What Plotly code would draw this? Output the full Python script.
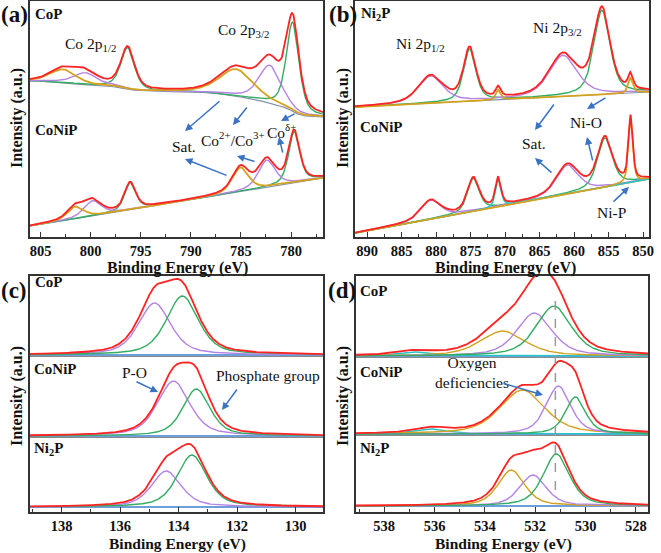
import numpy as np
import plotly.graph_objects as go

# ---------------- data ----------------
# peak components: (center eV, height above background, FWHM eV)
# (a) Co 2p
a_cop_green  = [(779.84, 89, 1.5), (796.30, 41, 1.6)]
a_cop_purple = [(782.11, 38, 2.6), (800.50, 12, 2.8)]
a_cop_gold   = [(785.45, 27, 4.0), (802.72, 13, 3.0)]
a_cop_bg     = (156, 120)          # Shirley background: high-BE end, low-BE end
a_conip_green  = [(779.69, 51, 1.3), (796.05, 27, 1.3)]
a_conip_purple = [(782.42, 27, 2.0), (799.79, 15, 2.0)]
a_conip_gold   = [(785.04, 24, 1.9), (801.50, 12, 1.9)]
a_conip_bg     = (11, 59)          # linear background: high-BE end, low-BE end
# (b) Ni 2p
b_ni2p_green  = [(855.95, 84, 2.75), (875.12, 52, 2.1)]
b_ni2p_purple = [(861.59, 41, 4.8), (880.77, 27, 4.25)]
b_ni2p_gold   = [(851.79, 15, 0.85), (870.97, 10, 0.85)]
b_ni2p_bg     = (130, 145)
b_conip_green  = [(855.52, 49, 2.55), (874.59, 33, 2.0)]
b_conip_purple = [(860.96, 29, 3.8), (880.77, 19, 3.4)]
b_conip_gold   = [(851.79, 64, 0.75)]
b_conip_cyan   = [(870.97, 28, 0.95)]
b_conip_bg     = (4, 58)
# (c) P 2p  (baseline offset, components)
c_cop   = dict(base=156, purple=(134.82, 52, 1.3), green=(133.87, 59, 1.3))
c_conip = dict(base=75,  purple=(134.17, 55, 1.3), green=(133.39, 47, 1.1))
c_ni2p  = dict(base=4,   purple=(134.42, 36, 1.2), green=(133.54, 52, 1.2))
# (d) O 1s
d_cop   = dict(base=155, cyan=(536.74, 4, 1.55), gold=(533.29, 25, 2.1),
               purple=(532.03, 43, 1.65), green=(531.26, 50, 1.65))
d_conip = dict(base=77,  cyan=(536.11, 5, 1.55), gold=(532.51, 44, 2.1),
               purple=(531.08, 48, 1.15), green=(530.40, 37, 0.95))
d_ni2p  = dict(base=5,   cyan=None, gold=(532.95, 36, 1.25),
               purple=(532.09, 31, 1.25), green=(531.16, 52, 1.25))
d_ref_line = 531.2

a_ticks = [805, 800, 795, 790, 785, 780]
b_ticks = [890, 885, 880, 875, 870, 865, 860, 855, 850]
c_ticks = [138, 136, 134, 132, 130]
d_ticks = [538, 536, 534, 532, 530, 528]

# axis ranges (high BE on the left)
a_range = [806.05, 776.81]
b_range = [891.74, 849.13]
c_range = [139.08, 129.06]
d_range = [539.12, 527.52]

# ---------------- styles ----------------
RED, GREEN, PURPLE, GOLD = "#ff2424", "#33ad62", "#b483e3", "#d5a21e"
CYAN, BLUE, ARROW = "#25c4c8", "#3c7fd2", "#3a72c4"
FONT = "Liberation Serif"
W, H = 661, 553


def pv(x, c, h, w, eta=0.55):
    d = (x - c) / w
    return h * (eta / (1 + 4 * d * d) + (1 - eta) * np.exp(-4 * np.log(2) * d * d))


def comp(x, peaks):
    y = np.zeros_like(x)
    for c, h, w in peaks:
        y += pv(x, c, h, w)
    return y


def linear_bg(x, rng, ends):
    return ends[0] + (ends[1] - ends[0]) * (rng[0] - x) / (rng[0] - rng[1])


fig = go.Figure()


def line(x, y, color, ax, width=1.4):
    fig.add_trace(go.Scatter(x=x, y=y, mode="lines", xaxis="x" + ax, yaxis="y" + ax,
                             line=dict(color=color, width=width), hoverinfo="skip",
                             showlegend=False))


# ---- panel a ----
xa = np.linspace(a_range[1], a_range[0], 700)
ga, pa, oa = comp(xa, a_cop_green), comp(xa, a_cop_purple), comp(xa, a_cop_gold)
tot = ga + pa + oa
cum = np.cumsum(tot)
bg = a_cop_bg[1] + (a_cop_bg[0] - a_cop_bg[1]) * cum / cum[-1]
line(xa, bg, "#7f8fa8", "1", 1.2)
line(xa, bg + ga, GREEN, "1")
line(xa, bg + pa, PURPLE, "1")
line(xa, bg + oa, GOLD, "1", 1.8)
line(xa, bg + tot, RED, "1", 1.8)
bgl = linear_bg(xa, a_range, a_conip_bg)
ga, pa, oa = comp(xa, a_conip_green), comp(xa, a_conip_purple), comp(xa, a_conip_gold)
line(xa, bgl, "#7f8fa8", "1", 1.2)
line(xa, bgl + ga, GREEN, "1")
line(xa, bgl + pa, PURPLE, "1")
line(xa, bgl + oa, GOLD, "1", 1.8)
line(xa, bgl + ga + pa + oa, RED, "1", 1.8)

# ---- panel b ----
xb = np.linspace(b_range[1], b_range[0], 900)
bgl = linear_bg(xb, b_range, b_ni2p_bg)
ga, pa, oa = comp(xb, b_ni2p_green), comp(xb, b_ni2p_purple), comp(xb, b_ni2p_gold)
line(xb, bgl, "#7f8fa8", "2", 1.2)
line(xb, bgl + ga, GREEN, "2")
line(xb, bgl + pa, PURPLE, "2")
line(xb, bgl + oa, GOLD, "2", 1.8)
line(xb, bgl + ga + pa + oa, RED, "2", 1.8)
bgl = linear_bg(xb, b_range, b_conip_bg)
ga, pa = comp(xb, b_conip_green), comp(xb, b_conip_purple)
oa, ca = comp(xb, b_conip_gold), comp(xb, b_conip_cyan)
line(xb, bgl, GOLD, "2", 1.6)
line(xb, bgl + ga, GREEN, "2")
line(xb, bgl + pa, PURPLE, "2")
line(xb, bgl + ca, CYAN, "2", 1.6)
line(xb, bgl + oa, GOLD, "2", 1.6)
line(xb, bgl + ga + pa + oa + ca, RED, "2", 1.8)

# ---- panel c ----
xc = np.linspace(c_range[1], c_range[0], 600)
for s in (c_cop, c_conip, c_ni2p):
    b0 = np.full_like(xc, s["base"], dtype=float)
    pp, gg = comp(xc, [s["purple"]]), comp(xc, [s["green"]])
    line(xc, b0, BLUE, "3", 1.6)
    line(xc, b0 + pp, PURPLE, "3")
    line(xc, b0 + gg, GREEN, "3")
    line(xc, b0 + pp + gg, RED, "3", 1.8)

# ---- panel d ----
xd = np.linspace(d_range[1], d_range[0], 600)
for s in (d_cop, d_conip, d_ni2p):
    b0 = np.full_like(xd, s["base"], dtype=float)
    total = np.zeros_like(xd)
    line(xd, b0, BLUE, "4", 1.6)
    for key, col in (("cyan", CYAN), ("gold", GOLD), ("purple", PURPLE), ("green", GREEN)):
        if s[key] is None:
            continue
        yy = comp(xd, [s[key]])
        total += yy
        line(xd, b0 + yy, col, "4")
    line(xd, b0 + total, RED, "4", 1.8)


# ---------------- layout ----------------
def px(x):
    return x / W


def py(y):
    return 1 - y / H


axis_common = dict(showline=True, mirror=True, linecolor="#333", linewidth=1.5,
                   showgrid=False, zeroline=False, automargin=False)


def xax(dom, rng, ticks, anchor, minor):
    return dict(axis_common, domain=dom, range=rng, anchor=anchor, tickmode="array",
                tickvals=ticks, ticks="inside", ticklen=5, tickwidth=1.3, tickcolor="#333",
                tickfont=dict(family=FONT, size=14.5, color="#111", weight="bold"),
                minor=dict(ticks="inside", ticklen=3, dtick=minor, tick0=ticks[0],
                           tickcolor="#333"))


def yax(dom, rng, anchor):
    return dict(axis_common, domain=dom, range=rng, anchor=anchor, showticklabels=False,
                ticks="")


top = [py(237), py(1)]
bot = [py(512), py(276)]
fig.update_layout(
    width=W, height=H, autosize=False, margin=dict(l=0, r=0, t=0, b=0),
    paper_bgcolor="white", plot_bgcolor="white", template="none",
    font=dict(family=FONT),
    xaxis=xax([px(30), px(323)], a_range, a_ticks, "y", 2.5),
    yaxis=yax(top, [0, 236], "x"),
    xaxis2=xax([px(355), px(649)], b_range, b_ticks, "y2", 2.5),
    yaxis2=yax(top, [0, 236], "x2"),
    xaxis3=xax([px(30), px(323)], c_range, c_ticks, "y3", 1),
    yaxis3=yax(bot, [-1, 235], "x3"),
    xaxis4=xax([px(356), px(648)], d_range, d_ticks, "y4", 1),
    yaxis4=yax(bot, [-1, 235], "x4"),
)

shapes = []
for ax, lst in (("3", (c_cop, c_conip)), ("4", (d_cop, d_conip))):
    for s in lst:
        shapes.append(dict(type="line", xref="x" + ax + " domain", yref="y" + ax,
                           x0=0, x1=1, y0=s["base"] - 1.5, y1=s["base"] - 1.5,
                           line=dict(color="#8a8a8a", width=1)))
shapes.append(dict(type="line", xref="x4", yref="y4", x0=d_ref_line, x1=d_ref_line,
                   y0=21, y1=214, line=dict(color="#9a9a9a", width=1.5, dash="dash")))
fig.update_layout(shapes=shapes)

ann = []


def text(x, y, s, size=15, bold=False, xanchor="center", yanchor="middle", angle=0):
    ann.append(dict(x=px(x), y=py(y), xref="paper", yref="paper", text=s, showarrow=False,
                    xanchor=xanchor, yanchor=yanchor, textangle=angle,
                    font=dict(family=FONT, size=size, color="#111",
                              weight="bold" if bold else "normal")))


def arrow(tx, ty, hx, hy):
    ann.append(dict(x=px(hx), y=py(hy), xref="paper", yref="paper", text="",
                    showarrow=True, ax=tx - hx, ay=ty - hy, axref="pixel", ayref="pixel",
                    arrowhead=2, arrowsize=1, arrowwidth=1.5, arrowcolor=ARROW))


for lab, x, y in (("(a)", 14, 15), ("(b)", 343, 15), ("(c)", 14, 290), ("(d)", 342, 290)):
    text(x, y, lab, size=23, bold=True)
for s, x, y in (("CoP", 33, 14), ("CoNiP", 33, 130), ("Ni<sub>2</sub>P", 359, 14),
                ("CoNiP", 358, 127), ("CoP", 33, 282), ("CoNiP", 32, 369),
                ("Ni<sub>2</sub>P", 32, 449), ("CoP", 358, 291), ("CoNiP", 358, 372),
                ("Ni<sub>2</sub>P", 358, 449)):
    text(x, y, s, size=15, bold=True, xanchor="left")
for x in (177, 505):
    text(x, 268, "Binding Energy (eV)", size=16, bold=True)
for x in (177, 503):
    text(x, 544, "Binding Energy (eV)", size=15.5, bold=True)
for x, y in ((17, 118), (343, 118), (17, 396), (343, 396)):
    text(x, y, "Intensity (a.u.)", size=16, bold=True, angle=-90)
text(90, 44, "Co 2p<sub>1/2</sub>", 15.5)
text(243, 31, "Co 2p<sub>3/2</sub>", 15.5)
text(184, 147, "Sat.", 15.5)
text(233, 139, "Co<sup>2+</sup>/Co<sup>3+</sup>", 15.5)
text(281, 131, "Co<sup>δ+</sup>", 15.5)
text(420, 44, "Ni 2p<sub>1/2</sub>", 15.5)
text(557, 28, "Ni 2p<sub>3/2</sub>", 15.5)
text(586, 123, "Ni-O", 15.5)
text(534, 144, "Sat.", 15.5)
text(611, 212, "Ni-P", 15.5)
text(134, 372, "P-O", 15.5)
text(268, 375, "Phosphate group", 15.5)
text(472, 372, "Oxygen<br>deficiencies", 15.5)
for a in ((221, 100, 185, 131), (248, 106, 233, 125), (296, 113, 281, 121),
          (228, 176, 185, 159), (256, 162, 237, 156), (283, 154, 279, 137),
          (555, 103, 535, 130), (607, 97, 587, 109), (553, 174, 535, 158),
          (593, 162, 587, 137), (612, 203, 629, 187),
          (135, 381, 158, 392), (238, 388, 222, 410), (502, 383, 543, 395)):
    arrow(*a)
fig.update_layout(annotations=ann)

fig.write_html("out.html", config={"displayModeBar": False},
               post_script="document.body.style.margin='0px';")
